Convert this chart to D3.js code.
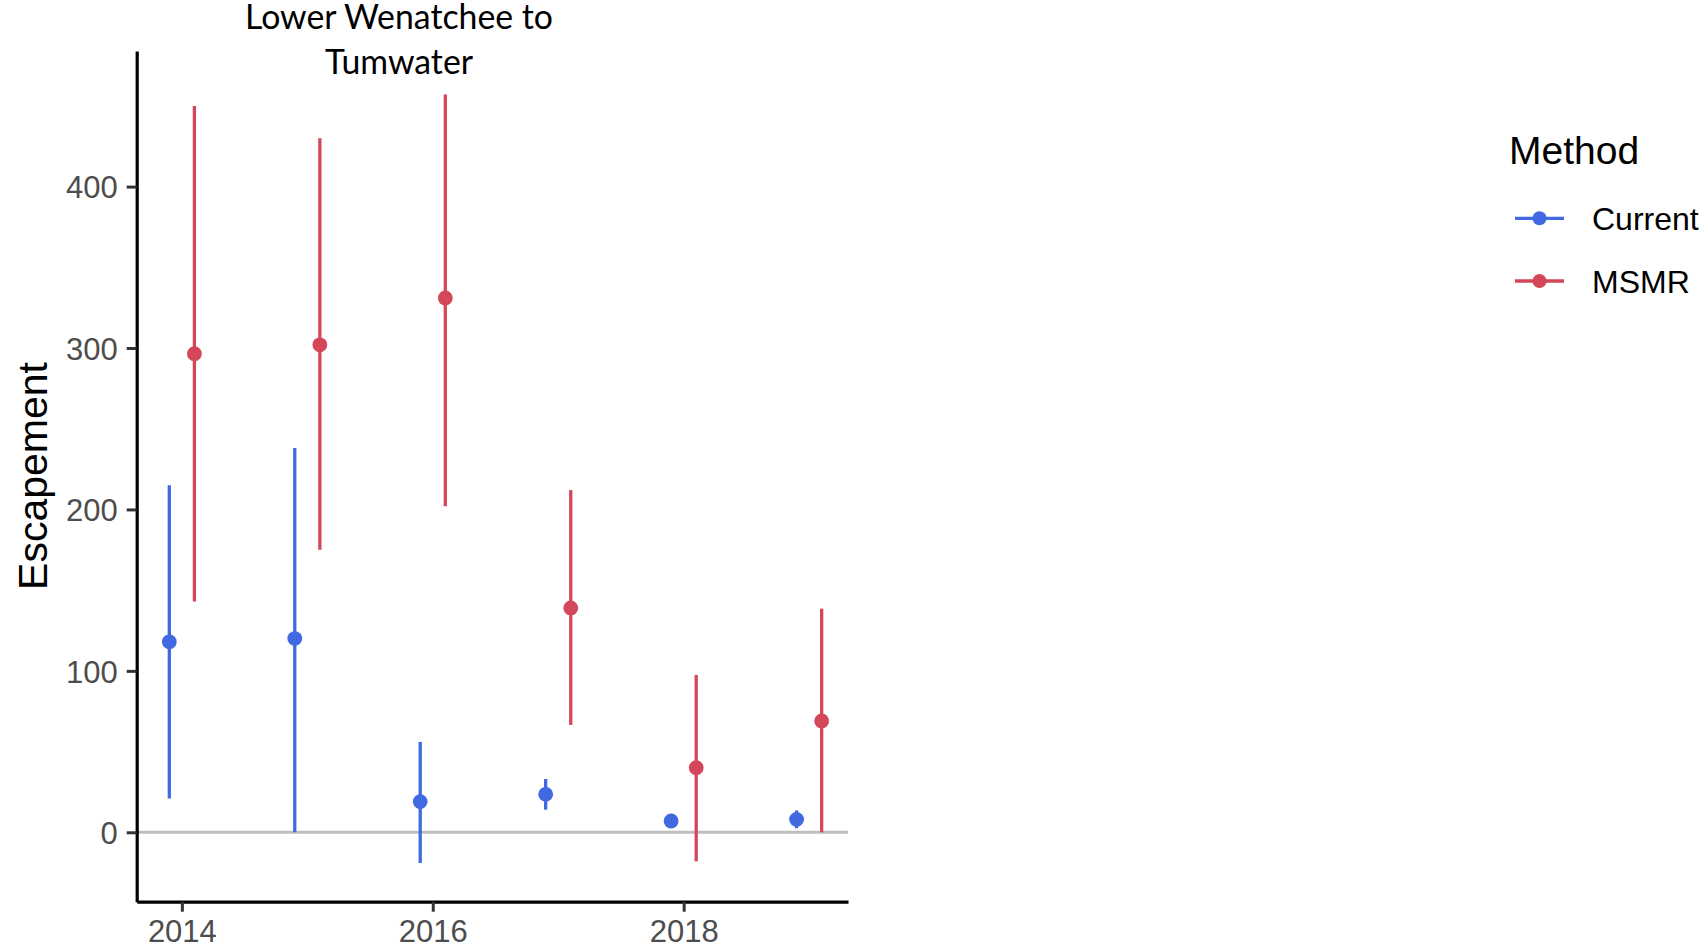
<!DOCTYPE html>
<html>
<head>
<meta charset="utf-8">
<script src="https://cdn.jsdelivr.net/npm/d3@7"></script>
<style>
  html, body { margin: 0; padding: 0; background: #ffffff; }
  svg { display: block; }
</style>
</head>
<body>
<svg id="chart" width="1703" height="947"></svg>
<script>
// Escapement estimates with intervals, by year and estimation method
const years = [2014, 2015, 2016, 2017, 2018, 2019];
const methods = ["Current", "MSMR"];

const currentEst   = [118, 120, 19, 23.5, 7, 8];
const currentLower = [21, 0, -19, 14, 4, 2.5];
const currentUpper = [215, 238, 56, 33, 10, 13.5];

const msmrEst   = [296.5, 302, 331, 139, 40, 69];
const msmrLower = [143, 175, 202, 66.5, -18, 0];
const msmrUpper = [450, 430, 457, 212, 97.5, 138.5];

const xTicks = [2014, 2016, 2018];
const yTicks = [0, 100, 200, 300, 400];

const titleLines = ["Lower Wenatchee to", "Tumwater"];
const yTitle = "Escapement";
const legendTitle = "Method";

const colors = { Current: "#4169e1", MSMR: "#d4475a" };
const dodge = { Current: -0.1, MSMR: 0.1 };

const rows = [];
years.forEach((yr, i) => {
  rows.push({ method: "Current", year: yr, est: currentEst[i], lo: currentLower[i], hi: currentUpper[i] });
  rows.push({ method: "MSMR", year: yr, est: msmrEst[i], lo: msmrLower[i], hi: msmrUpper[i] });
});

const svg = d3.select("#chart");
const panel = { left: 136.7, right: 848, top: 51, bottom: 901.7 };

const x = d3.scaleLinear().domain([2013.64, 2019.31]).range([panel.left, panel.right]);
const y = d3.scaleLinear().domain([-43, 484]).range([panel.bottom, panel.top]);

// zero reference line
svg.append("line")
  .attr("x1", panel.left).attr("x2", panel.right)
  .attr("y1", y(0)).attr("y2", y(0))
  .attr("stroke", "#bebebe").attr("stroke-width", 3);

// interval lines
svg.append("g").selectAll("line")
  .data(rows).join("line")
  .attr("x1", d => x(d.year + dodge[d.method]))
  .attr("x2", d => x(d.year + dodge[d.method]))
  .attr("y1", d => y(d.lo))
  .attr("y2", d => y(d.hi))
  .attr("stroke", d => colors[d.method])
  .attr("stroke-width", 3.3);

// point estimates
svg.append("g").selectAll("circle")
  .data(rows).join("circle")
  .attr("cx", d => x(d.year + dodge[d.method]))
  .attr("cy", d => y(d.est))
  .attr("r", 7.4)
  .attr("fill", d => colors[d.method]);

// axes
const xAxis = svg.append("g")
  .attr("transform", `translate(0,${panel.bottom})`)
  .call(d3.axisBottom(x).tickValues(xTicks).tickFormat(d3.format("d")).tickSize(10).tickPadding(8).tickSizeOuter(0));
const yAxis = svg.append("g")
  .attr("transform", `translate(${panel.left},0)`)
  .call(d3.axisLeft(y).tickValues(yTicks).tickSize(10).tickPadding(9).tickSizeOuter(0));

[xAxis, yAxis].forEach(g => {
  g.select(".domain").attr("stroke", "#000").attr("stroke-width", 3.2);
  g.selectAll(".tick line").attr("stroke", "#333").attr("stroke-width", 3);
  g.selectAll(".tick text")
    .attr("fill", "#4d4d4d")
    .style("font-family", "'Liberation Sans', Arial, sans-serif")
    .style("font-size", "31px");
});
yAxis.selectAll(".tick text").attr("dy", "0.36em");
xAxis.selectAll(".tick text").attr("dy", "0.71em");

// y-axis title
svg.append("text")
  .attr("transform", `translate(47,476) rotate(-90)`)
  .attr("text-anchor", "middle")
  .style("font-family", "'Liberation Sans', Arial, sans-serif")
  .style("font-size", "41px")
  .attr("fill", "#000")
  .text(yTitle);

// panel title
const title = svg.append("text")
  .attr("text-anchor", "middle")
  .style("font-family", "Lato, 'Open Sans', sans-serif")
  .style("font-size", "32px")
  .attr("fill", "#000");
title.selectAll("tspan").data(titleLines).join("tspan")
  .attr("x", 399)
  .attr("y", (d, i) => 29 + i * 45)
  .text(d => d);
const firstWidth = title.select("tspan").node().getComputedTextLength();
title.style("font-size", (32 * 308 / firstWidth) + "px");

// legend
const legend = svg.append("g");
legend.append("text")
  .attr("x", 1509).attr("y", 164)
  .style("font-family", "'Liberation Sans', Arial, sans-serif")
  .style("font-size", "39px")
  .attr("fill", "#000")
  .text(legendTitle);

const keys = legend.selectAll("g.key").data(methods).join("g")
  .attr("class", "key")
  .attr("transform", (d, i) => `translate(0,${218.3 + i * 62.7})`);
keys.append("line")
  .attr("x1", 1515).attr("x2", 1564)
  .attr("stroke", d => colors[d]).attr("stroke-width", 3.3);
keys.append("circle")
  .attr("cx", 1539.5).attr("r", 7)
  .attr("fill", d => colors[d]);
keys.append("text")
  .attr("x", 1592).attr("dy", "0.36em")
  .style("font-family", "'Liberation Sans', Arial, sans-serif")
  .style("font-size", "32px")
  .attr("fill", "#000")
  .text(d => d);
</script>
</body>
</html>
